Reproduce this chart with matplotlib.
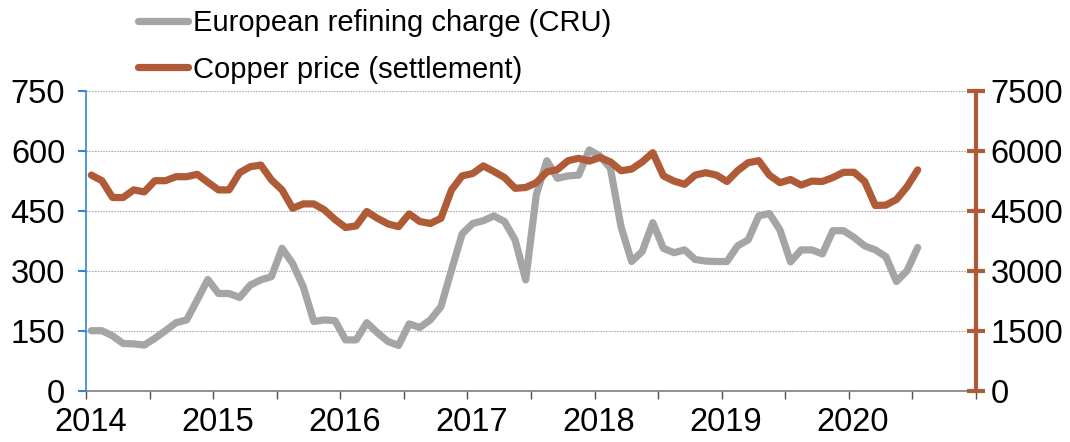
import numpy as np
import pandas as pd
import matplotlib
matplotlib.use("Agg")
import matplotlib.pyplot as plt

plt.rcParams['font.family'] = ['Liberation Sans', 'DejaVu Sans']

# Monthly series, Jan 2014 - Jul 2020
months = pd.date_range("2014-01-01", "2020-07-01", freq="MS")
refining_charge = [150, 150, 137, 118, 117, 114, 131, 150, 170, 177, 227, 278,
                   243, 243, 233, 264, 277, 285, 356, 318, 260, 173, 177, 175,
                   127, 127, 170, 145, 123, 113, 167, 158, 177, 210, 302, 392,
                   418, 425, 437, 423, 377, 277, 490, 575, 531, 537, 539, 602,
                   587, 556, 410, 323, 348, 420, 356, 345, 352, 328, 324, 323,
                   323, 362, 377, 437, 443, 402, 322, 352, 352, 342, 400, 400,
                   383, 362, 352, 335, 273, 300, 358]
copper_price = [5390, 5250, 4830, 4830, 5020, 4970, 5250, 5250, 5350, 5350, 5410, 5210,
                5020, 5020, 5450, 5600, 5640, 5270, 5020, 4560, 4670, 4670, 4520, 4280,
                4080, 4120, 4480, 4310, 4170, 4100, 4420, 4230, 4180, 4310, 5020, 5370,
                5430, 5620, 5480, 5330, 5060, 5080, 5200, 5470, 5530, 5750, 5810, 5740,
                5830, 5720, 5500, 5540, 5720, 5950, 5370, 5240, 5160, 5390, 5450, 5390,
                5230, 5500, 5700, 5750, 5390, 5200, 5280, 5140, 5240, 5230, 5330, 5460,
                5460, 5230, 4630, 4640, 4780, 5100, 5520]
years = [2014, 2015, 2016, 2017, 2018, 2019, 2020]

GREY = '#A5A5A5'
COPPER = '#AF5B38'
BLUE = '#2F86DA'

# category axis: one slot per month, points in the middle of the slot
start = pd.Timestamp("2014-01-01")
x = np.array([(m.year - start.year) * 12 + m.month - 1 for m in months]) + 0.5

fig = plt.figure(figsize=(10.7, 4.42), dpi=100)
ax = fig.add_axes([0.0804, 0.1161, 0.8317, 0.6787])
ax2 = ax.twinx()

l1, = ax.plot(x, refining_charge, color=GREY, lw=5.2, solid_capstyle='round',
              solid_joinstyle='round', label='European refining charge (CRU)')
l2, = ax2.plot(x, copper_price, color=COPPER, lw=5.2, solid_capstyle='round',
               solid_joinstyle='round', label='Copper price (settlement)')

ax.set_xlim(0, 84)
ax.set_ylim(0, 750)
ax2.set_ylim(0, 7500)
ax.set_yticks(np.arange(0, 751, 150))
ax2.set_yticks(np.arange(0, 7501, 1500))

# half-year tick marks without labels; year labels on invisible minor ticks
ax.set_xticks(np.arange(0, 85, 6))
ax.set_xticklabels([])
year_pos = [(y - years[0]) * 12 + 0.4 for y in years]
ax.set_xticks(year_pos, minor=True)
ax.set_xticklabels([str(y) for y in years], minor=True)

ax.yaxis.grid(True, linestyle=(0, (1.5, 1)), color='#B0B0B0', lw=0.8)
ax.set_axisbelow(True)

for a in (ax, ax2):
    a.spines['top'].set_visible(False)
ax.spines['right'].set_visible(False)
ax2.spines['left'].set_visible(False)
ax2.spines['bottom'].set_visible(False)

ax.spines['left'].set_color(BLUE)
ax.spines['left'].set_linewidth(1.2)
ax.spines['bottom'].set_color('#808080')
ax.spines['bottom'].set_linewidth(1.2)
ax2.spines['right'].set_color(COPPER)
ax2.spines['right'].set_linewidth(3)

ax.tick_params(axis='y', colors=BLUE, length=6, width=1.5, pad=9,
               labelcolor='black', labelsize=23.5)
ax.tick_params(axis='x', which='major', color='#505050', length=6, width=1)
ax.tick_params(axis='x', which='minor', length=0, pad=12, labelsize=23.5)
ax2.tick_params(axis='y', colors=COPPER, direction='inout', length=13, width=3,
                pad=4, labelcolor='black', labelsize=23.5)

fig.legend(handles=[l1, l2], loc='upper left', bbox_to_anchor=(0.118, 1.005),
           frameon=False, fontsize=21, handlelength=1.7, handletextpad=0.2,
           labelspacing=0.62, borderaxespad=0)

fig.savefig('out.png', dpi=100)
